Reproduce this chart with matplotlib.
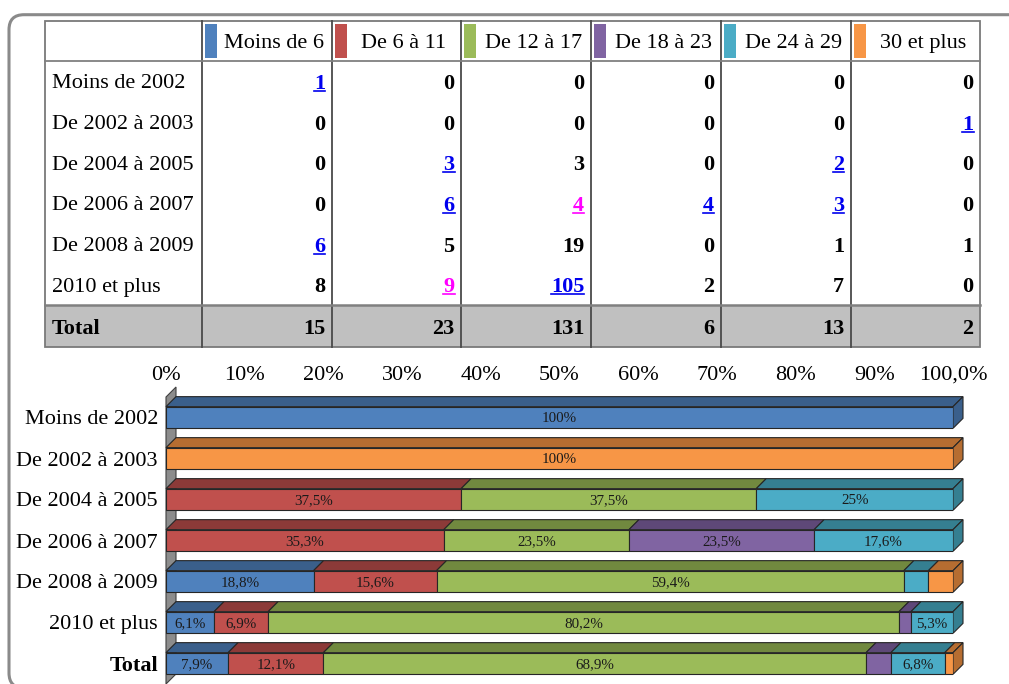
import matplotlib
matplotlib.use("Agg")
import matplotlib.pyplot as plt
from matplotlib.patches import Rectangle, Polygon, FancyBboxPatch
from matplotlib.transforms import IdentityTransform

plt.rcParams['font.family'] = ['Liberation Serif', 'DejaVu Serif']

# data
age_groups = ['Moins de 6', 'De 6 à 11', 'De 12 à 17', 'De 18 à 23', 'De 24 à 29', '30 et plus']
periods = ['Moins de 2002', 'De 2002 à 2003', 'De 2004 à 2005', 'De 2006 à 2007',
           'De 2008 à 2009', '2010 et plus']
counts = [
    [1, 0, 0, 0, 0, 0],
    [0, 0, 0, 0, 0, 1],
    [0, 3, 3, 0, 2, 0],
    [0, 6, 4, 4, 3, 0],
    [6, 5, 19, 0, 1, 1],
    [8, 9, 105, 2, 7, 0],
]
totals = [sum(c[j] for c in counts) for j in range(len(age_groups))]
blue_links = [(0, 0), (1, 5), (2, 1), (2, 4), (3, 1), (3, 3), (3, 4), (4, 0), (5, 2)]
pink_links = [(3, 2), (5, 1)]
x_ticks = [0, 10, 20, 30, 40, 50, 60, 70, 80, 90, 100]
x_ticklabels = ['0%', '10%', '20%', '30%', '40%', '50%', '60%', '70%', '80%', '90%', '100,0%']

colors = ['#4f81bd', '#c0504d', '#9bbb59', '#8064a2', '#4bacc6', '#f79646']
dark_colors = ['#3a5f8b', '#8c3a38', '#71893f', '#5e4878', '#357f91', '#b66d31']

W, H = 1009, 684
fig = plt.figure(figsize=(W / 100, H / 100), dpi=100)

# background axes in pixel units for frame + table
bg = fig.add_axes([0, 0, 1, 1])
bg.set_xlim(0, W)
bg.set_ylim(H, 0)
bg.axis('off')

# rounded frame, drawn in display pixels (y up)
frame = FancyBboxPatch((9, -4), 1040 - 9, (H - 14.7) + 4,
                       boxstyle='round,pad=0,rounding_size=15',
                       ec='#8a8a8a', fc='none', lw=2.2, transform=IdentityTransform())
fig.patches.append(frame)

# table layout
col_edges = [45, 201.7, 331.7, 461, 590.7, 720.7, 850.7, 980]
top, head_bot = 20.7, 61
row_h = 40.7
tot_top, tot_bot = 305.3, 346.7
fs = 16
ty = 2.5  # small downward nudge of table text

bg.add_patch(Rectangle((col_edges[0], tot_top), col_edges[-1] - col_edges[0],
                       tot_bot - tot_top, fc='#c0c0c0', ec='none'))
# lines
for x in col_edges[1:-1]:
    bg.plot([x, x], [top, tot_bot], color='#4a4a4a', lw=1.3)
bg.plot([col_edges[0], col_edges[-1]], [head_bot, head_bot], color='#808080', lw=1.3)
bg.plot([col_edges[0], col_edges[-1]], [tot_top, tot_top], color='#808080', lw=1.8)
bg.add_patch(Rectangle((col_edges[0], top), col_edges[-1] - col_edges[0], tot_bot - top,
                       fc='none', ec='#7a7a7a', lw=1.3))

# header
for j, name in enumerate(age_groups):
    x0, x1 = col_edges[j + 1], col_edges[j + 2]
    bg.add_patch(Rectangle((x0 + 3.3, 24), 11.7, 33.7, fc=colors[j], ec='none'))
    bg.text((x0 + 15 + x1) / 2, (top + head_bot) / 2 + ty, name, fontsize=fs,
            ha='center', va='center')

links = []
for i, per in enumerate(periods):
    yc = head_bot + row_h * (i + 0.5)
    bg.text(col_edges[0] + 6.7, yc + ty, per, fontsize=fs, ha='left', va='center')
    for j, v in enumerate(counts[i]):
        c = 'black'
        if (i, j) in blue_links:
            c = '#0000ee'
        elif (i, j) in pink_links:
            c = '#ff00ff'
        t = bg.text(col_edges[j + 2] - 6.5, yc + ty, str(v), fontsize=fs, fontweight='bold',
                    ha='right', va='center', color=c)
        if c != 'black':
            links.append((t, yc, c))

yc = (tot_top + tot_bot) / 2
bg.text(col_edges[0] + 6.7, yc + ty, 'Total', fontsize=fs, fontweight='bold',
        ha='left', va='center')
for j, v in enumerate(totals):
    bg.text(col_edges[j + 2] - 6.5, yc + ty, str(v), fontsize=fs, fontweight='bold',
            ha='right', va='center')

# chart
ax_left, ax_right, ax_top = 166, 953, 397
ax = fig.add_axes([ax_left / W, 0, (ax_right - ax_left) / W, (H - ax_top) / H])
ax.set_xlim(0, 100)
ax.set_ylim(6.5, -0.5)
for s in ax.spines.values():
    s.set_visible(False)
ax.patch.set_alpha(0)

rows = periods + ['Total']
table = counts + [totals]
bar_h = 21.7 / 41
dx = 10 / (ax_right - ax_left) * 100
dy = 10 / 41

wall = Polygon([(0, -0.5), (dx, -0.5 - dy), (dx, 6.5 - dy), (0, 6.5)], closed=True,
               fc='#8c8c8c', ec='#404040', lw=0.8, zorder=1, clip_on=False)
ax.add_patch(wall)


def fmt(p):
    r = round(p, 1)
    if r == int(r):
        return f"{int(r)}%"
    return f"{r:.1f}%".replace('.', ',')


for i, row in enumerate(table):
    tot = sum(row)
    pct = [v / tot * 100 for v in row]
    left = 0
    ytop = i - bar_h / 2
    ybot = i + bar_h / 2
    last = 0
    for j, p in enumerate(pct):
        if p <= 0:
            continue
        ax.barh(i, p, left=left, height=bar_h, color=colors[j], edgecolor='#262626',
                lw=0.8, zorder=3)
        ax.add_patch(Polygon([(left, ytop), (left + p, ytop), (left + p + dx, ytop - dy),
                              (left + dx, ytop - dy)], closed=True, fc=dark_colors[j],
                             ec='#262626', lw=0.8, zorder=2, clip_on=False))
        if p >= 5:
            ax.text(left + p / 2, i + 0.03, fmt(p), fontsize=10.8, ha='center',
                    va='center', color='#1a1a1a', zorder=5)
        left += p
        last = j
    ax.add_patch(Polygon([(100, ytop), (100 + dx, ytop - dy), (100 + dx, ybot - dy),
                          (100, ybot)], closed=True, fc=dark_colors[last],
                         ec='#262626', lw=0.8, zorder=2, clip_on=False))

ax.xaxis.tick_top()
ax.set_xticks(x_ticks)
ax.set_xticklabels(x_ticklabels, fontsize=fs)
ax.set_yticks(range(len(rows)))
ax.set_yticklabels(rows, fontsize=fs)
ax.get_yticklabels()[-1].set_fontweight('bold')
ax.tick_params(axis='x', length=0, pad=9)
ax.tick_params(axis='y', length=0, pad=5.8)

# underline the link-coloured numbers
fig.canvas.draw()
inv = bg.transData.inverted()
for t, y, c in links:
    bb = t.get_window_extent()
    (x0, _), (x1, _) = inv.transform([(bb.x0, bb.y0), (bb.x1, bb.y1)])
    bg.plot([x0, x1], [y + 9.6, y + 9.6], color=c, lw=1.2)

fig.savefig('out.png', dpi=100)
